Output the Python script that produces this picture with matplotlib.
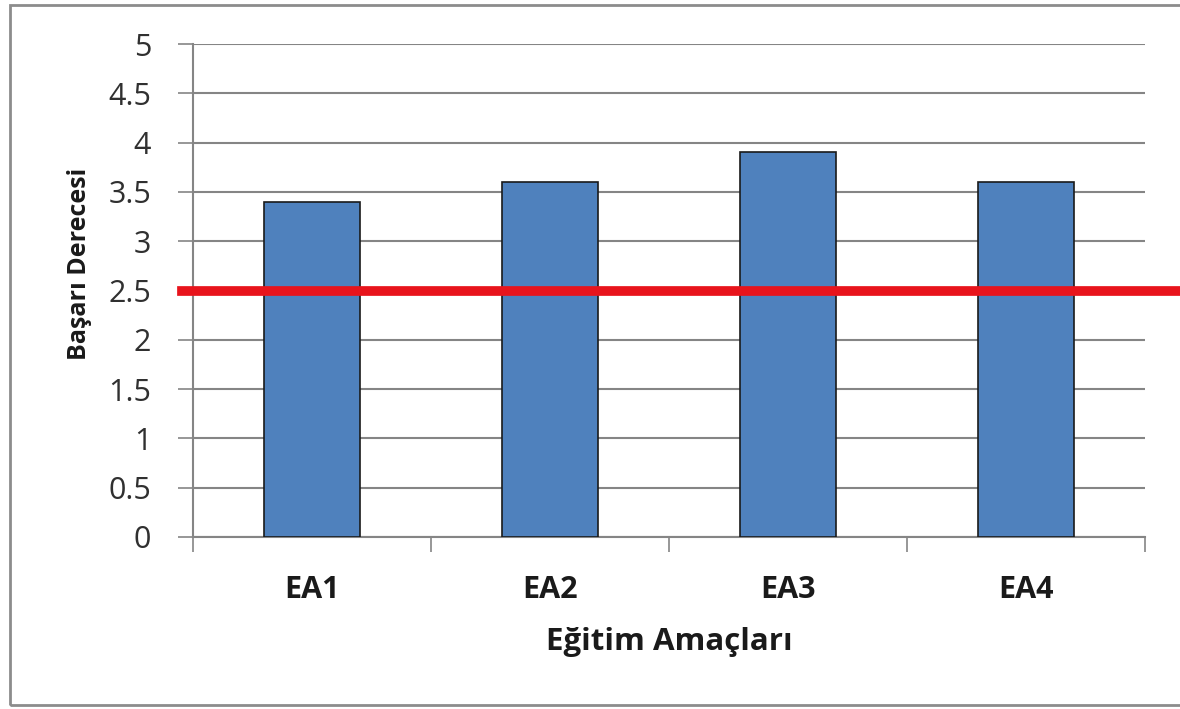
import matplotlib.pyplot as plt
from matplotlib.patches import Rectangle

# ── Data ──────────────────────────────────────────────────────────────────────
categories = ["EA1", "EA2", "EA3", "EA4"]
scores = [3.4, 3.6, 3.9, 3.6]
threshold = 2.5
yticks = [0, 0.5, 1, 1.5, 2, 2.5, 3, 3.5, 4, 4.5, 5]
ytick_labels = ["0", "0.5", "1", "1.5", "2", "2.5", "3", "3.5", "4", "4.5", "5"]

plt.rcParams["font.family"] = ["Open Sans", "DejaVu Sans"]
grid_col = "#858585"
text_col = "#1a1a1a"

fig = plt.figure(figsize=(11.8, 7.09), dpi=100)
ax = fig.add_axes([193 / 1180, 1 - 537 / 709, (1145 - 193) / 1180, (537 - 44) / 709])

x = list(range(len(categories)))
ax.bar(x, scores, width=0.40, color="#4f81bd", edgecolor="#1a1a1a", linewidth=1.2, zorder=3)

# threshold line runs past the plot area on the right, as in the original
ax.axhline(threshold, xmin=-0.012, xmax=1.04, color="#e8141c", lw=7, zorder=4, clip_on=False)

ax.set_xlim(-0.5, len(categories) - 0.5)
ax.set_ylim(0, 5)
ax.set_yticks(yticks)
ax.set_yticklabels(ytick_labels, fontsize=22, color="#303030")
ax.yaxis.grid(True, color=grid_col, lw=1.5, zorder=0)
ax.tick_params(axis="y", length=11, width=1.2, color=grid_col, pad=19)

ax.set_xticks(x)
ax.set_xticklabels(categories, fontsize=22, fontweight="bold", color=text_col)
ax.set_xticks([i - 0.5 for i in range(len(categories) + 1)], minor=True)
ax.tick_params(axis="x", which="major", length=0, pad=27)
ax.tick_params(axis="x", which="minor", length=11, width=1.2, color=grid_col)

ax.set_xlabel("Eğitim Amaçları", fontsize=22.5, fontweight="bold", color=text_col)
ax.xaxis.label.set_va("center")
ax.xaxis.set_label_coords(0.5, -0.212)
ax.set_ylabel("Başarı Derecesi", fontsize=18, fontweight="bold", color=text_col)
ax.yaxis.set_label_coords(-0.106, 0.554)

for side in ["top", "right"]:
    ax.spines[side].set_visible(False)
for side in ["left", "bottom"]:
    ax.spines[side].set_color(grid_col)
    ax.spines[side].set_linewidth(1.5)

# outer chart border
fig.patches.append(Rectangle((10 / 1180, 4 / 709), 1.05, 1 - 9 / 709, transform=fig.transFigure,
                             fill=False, edgecolor="#8c8c8c", lw=2))

fig.savefig("out.png", dpi=100)
